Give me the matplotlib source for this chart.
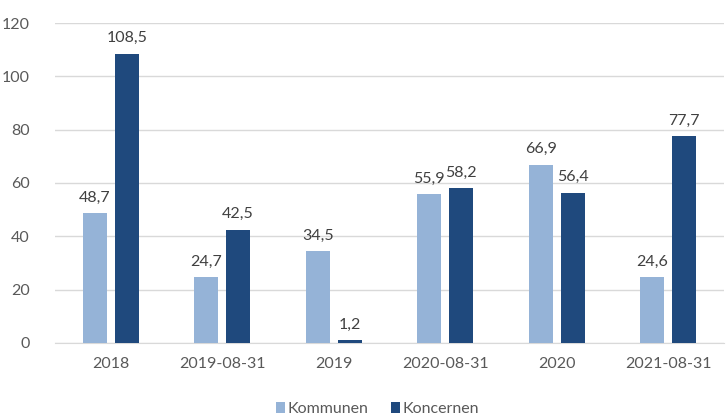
import numpy as np
import matplotlib.pyplot as plt

# Data
kategorier = ["2018", "2019-08-31", "2019", "2020-08-31", "2020", "2021-08-31"]
kommunen = [48.7, 24.7, 34.5, 55.9, 66.9, 24.6]
koncernen = [108.5, 42.5, 1.2, 58.2, 56.4, 77.7]

ljus = "#95B3D7"
mork = "#1F497D"
grå = "#595959"

plt.rcParams['font.family'] = ['Lato', 'DejaVu Sans']

fig = plt.figure(figsize=(7.26, 4.16), dpi=100)
ax = fig.add_axes([0.0758, 0.1755, 0.9212, 0.7692])

x = np.arange(len(kategorier))
b = 0.215
off = 0.143
s1 = ax.bar(x - off, kommunen, b, color=ljus, label="Kommunen", zorder=3)
s2 = ax.bar(x + off, koncernen, b, color=mork, label="Koncernen", zorder=3)

for rects, vals in [(s1, kommunen), (s2, koncernen)]:
    for r, v in zip(rects, vals):
        ax.annotate(f"{v:.1f}".replace(".", ","),
                    (r.get_x() + r.get_width() / 2, r.get_height()),
                    xytext=(0, 6), textcoords="offset points",
                    ha="center", va="bottom", fontsize=11.5, color="#404040")

ax.set_xlim(-0.5, len(kategorier) - 0.5)
ax.set_ylim(0, 120)
ax.set_yticks(range(0, 121, 20))
ax.set_xticks(x)
ax.set_xticklabels(kategorier)
ax.tick_params(axis="both", length=0, colors=grå, labelsize=11.5)
ax.tick_params(axis="x", pad=10)
ax.tick_params(axis="y", pad=18)
ax.grid(axis="y", color="#D9D9D9", linewidth=1, zorder=0)
for sp in ["top", "right", "left"]:
    ax.spines[sp].set_visible(False)
ax.spines["bottom"].set_color("#D9D9D9")

fig.legend(handles=[s1, s2], loc="lower center", bbox_to_anchor=(0.52, -0.035),
           ncol=2, frameon=False, fontsize=11.5, handlelength=0.6,
           handleheight=0.6, handletextpad=0.15, columnspacing=1.4,
           labelcolor=grå)

fig.savefig("out.png", dpi=100)
